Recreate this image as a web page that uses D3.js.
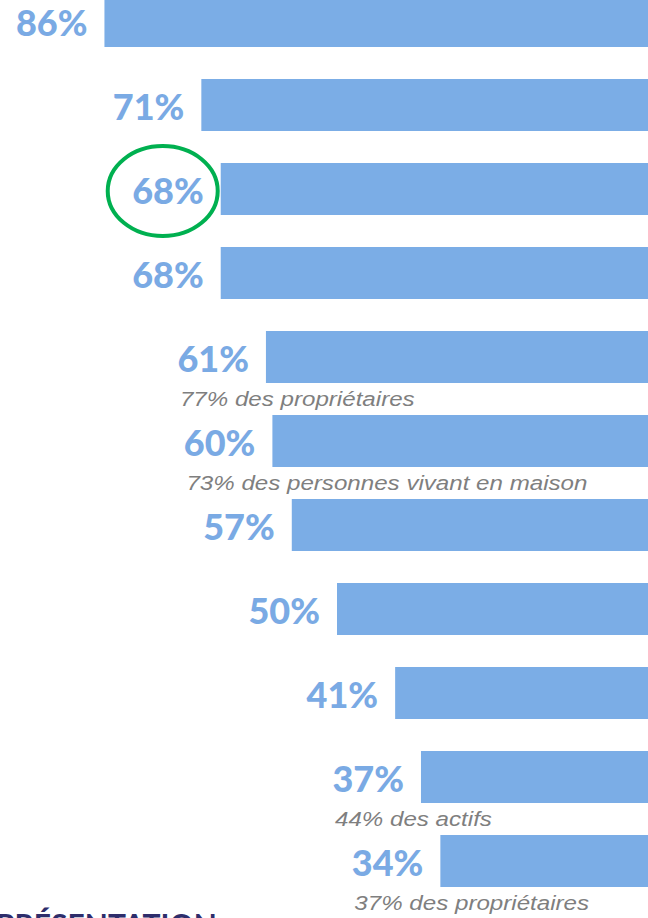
<!DOCTYPE html>
<html>
<head>
<meta charset="utf-8">
<script src="https://cdn.jsdelivr.net/npm/d3@7"></script>
<style>
  body { margin: 0; background: #fff; overflow: hidden; }
</style>
</head>
<body>
<script>
const values = [86, 71, 68, 68, 61, 60, 57, 50, 41, 37, 34];
const notes = ["", "", "", "", "77% des propriétaires", "73% des personnes vivant en maison", "", "", "", "44% des actifs", "37% des propriétaires"];
const highlighted = [2];

const w = 648;
const h = 918;

const svg = d3.select("body").append("svg").attr("width", w).attr("height", h);

const x = d3.scaleLinear().domain([0, 100]).range([660, 14]);
const y = d3
  .scaleBand()
  .domain(d3.range(values.length))
  .range([-5, 887])
  .paddingInner(32 / 84)
  .paddingOuter(0);

svg
  .selectAll("rect")
  .data(values)
  .enter()
  .append("rect")
  .attr("x", (d) => x(d))
  .attr("y", (d, i) => y(i))
  .attr("width", (d) => x(0) - x(d))
  .attr("height", y.bandwidth())
  .attr("fill", "#7badE6");

svg
  .selectAll("text.val")
  .data(values)
  .enter()
  .append("text")
  .attr("class", "val")
  .attr("x", (d) => x(d) - 17)
  .attr("y", (d, i) => y(i) + y.bandwidth() / 2 + 15)
  .attr("text-anchor", "end")
  .attr("font-family", "Lato, 'Open Sans', sans-serif")
  .attr("font-weight", 900)
  .attr("font-size", 36)
  .attr("fill", "#7aaae4")
  .text((d) => d + "%");

// notes are a bit stretched sideways in the original
svg
  .selectAll("text.note")
  .data(values)
  .enter()
  .append("text")
  .attr("class", "note")
  .attr("transform", (d, i) => `translate(${x(d) - 86},${y(i) + y.bandwidth() + 23}) scale(1.15,1)`)
  .attr("font-family", "'Liberation Sans', Arial, sans-serif")
  .attr("font-style", "italic")
  .attr("font-size", 21)
  .attr("fill", "#7f7f7f")
  .text((d, i) => notes[i]);

// highlight ring
svg
  .selectAll("ellipse")
  .data(highlighted)
  .enter()
  .append("ellipse")
  .attr("cx", (i) => x(values[i]) - 58)
  .attr("cy", (i) => y(i) + y.bandwidth() / 2 + 2)
  .attr("rx", 55)
  .attr("ry", 45)
  .attr("fill", "none")
  .attr("stroke", "#00b050")
  .attr("stroke-width", 4);

// cut-off heading at the bottom
svg
  .append("text")
  .attr("x", -4)
  .attr("y", 936)
  .attr("font-family", "Lato, sans-serif")
  .attr("font-weight", "bold")
  .attr("font-size", 30)
  .attr("fill", "#2e2d6b")
  .text("PRÉSENTATION");
</script>
</body>
</html>
